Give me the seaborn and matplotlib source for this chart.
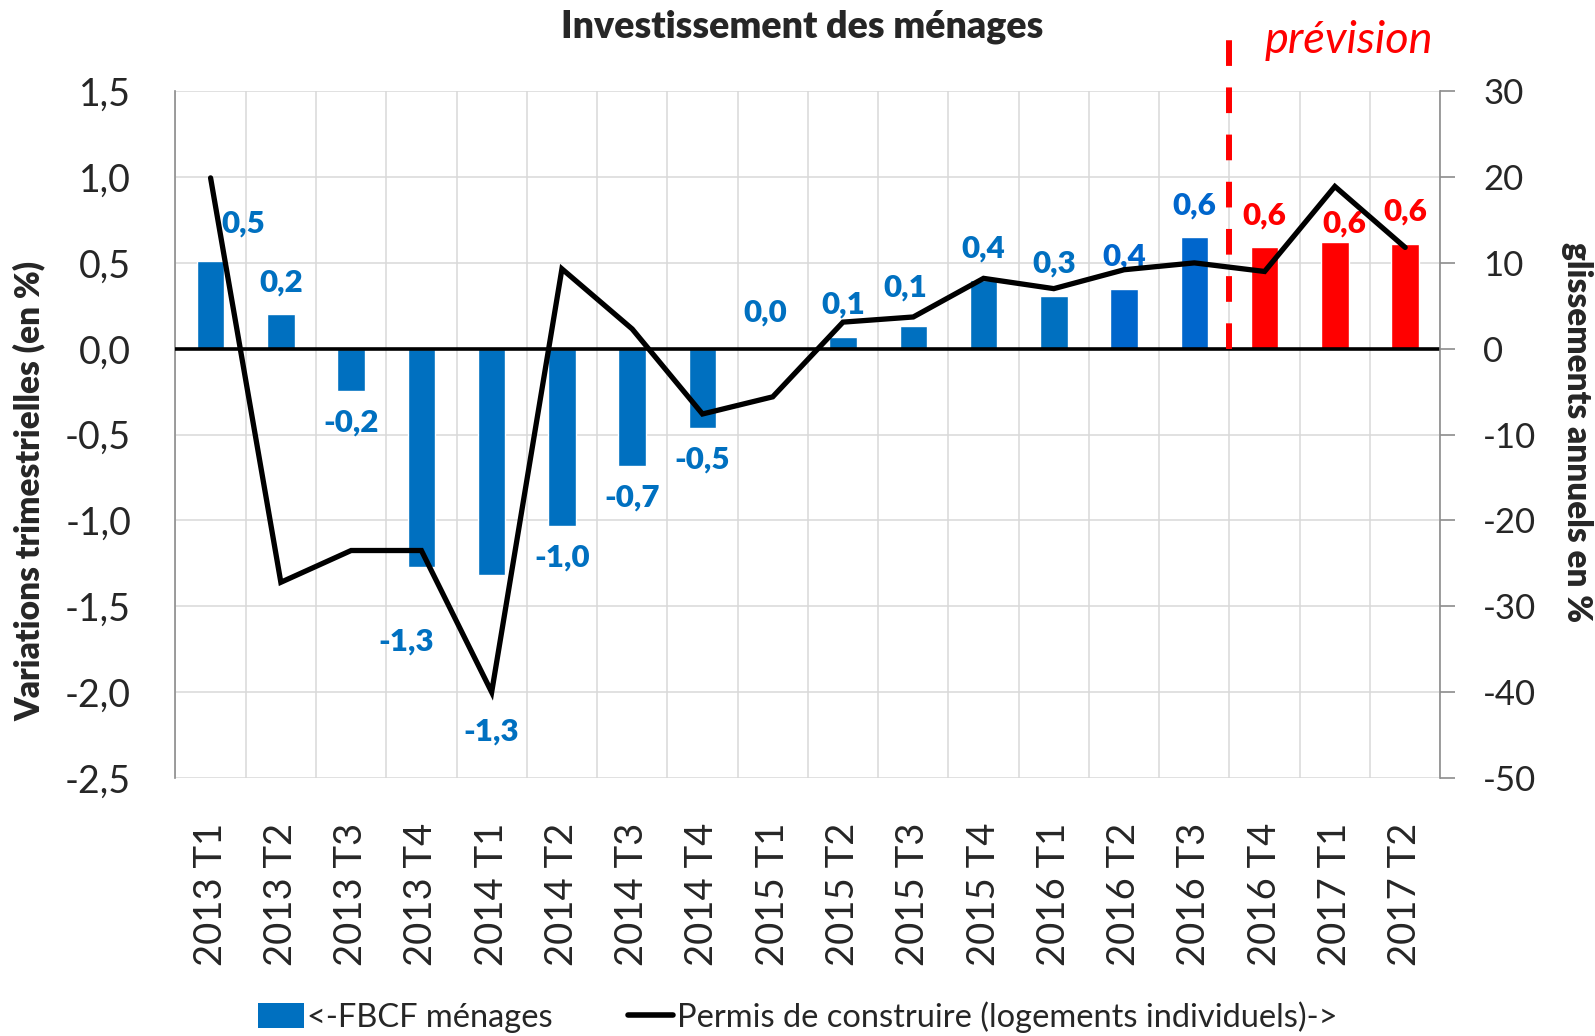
import numpy as np
import pandas as pd
import matplotlib
matplotlib.use("Agg")
import matplotlib.pyplot as plt
from matplotlib.patches import Patch
from matplotlib.lines import Line2D
import seaborn as sns

# Données
trimestres = ["2013 T1", "2013 T2", "2013 T3", "2013 T4",
              "2014 T1", "2014 T2", "2014 T3", "2014 T4",
              "2015 T1", "2015 T2", "2015 T3", "2015 T4",
              "2016 T1", "2016 T2", "2016 T3",
              "2016 T4", "2017 T1", "2017 T2"]
fbcf = [0.51, 0.20, -0.245, -1.27, -1.32, -1.03, -0.68, -0.46,
        0.005, 0.07, 0.13, 0.40, 0.31, 0.35, 0.65,
        0.59, 0.62, 0.61]
fbcf_labels = ["0,5", "0,2", "-0,2", "-1,3", "-1,3", "-1,0", "-0,7", "-0,5",
               "0,0", "0,1", "0,1", "0,4", "0,3", "0,4", "0,6",
               "0,6", "0,6", "0,6"]
permis = [19.9, -27.2, -23.5, -23.5, -40.0, 9.3, 2.3, -7.6,
          -5.6, 3.1, 3.7, 8.2, 7.0, 9.2, 10.0,
          9.0, 18.9, 11.8]
premier_prevu = "2016 T4"

BLEU = "#0070C0"
BLEU2 = "#0066CC"
ROUGE = "#FF0000"

sns.set_theme(style="white")
plt.rcParams["font.family"] = ["Lato", "DejaVu Sans"]
plt.rcParams["axes.unicode_minus"] = False

df = pd.DataFrame({"trimestre": trimestres, "fbcf": fbcf, "permis": permis})
i_prev = trimestres.index(premier_prevu)
couleurs = [BLEU] * (i_prev - 2) + [BLEU2] * 2 + [ROUGE] * (len(trimestres) - i_prev)

fig = plt.figure(figsize=(15.95, 10.36), dpi=100)
ax = fig.add_axes([0.110, 0.249, 0.793, 0.663])

sns.barplot(data=df, x="trimestre", y="fbcf", hue="trimestre", palette=couleurs,
            width=0.39, saturation=1, legend=False, ax=ax, zorder=2)
ax.set_ylim(-2.5, 1.5)
ax.set_yticks(np.arange(-2.5, 1.51, 0.5))
ax.set_yticklabels([f"{v:.1f}".replace(".", ",") for v in np.arange(-2.5, 1.51, 0.5)])
ax.set_xlim(-0.5, len(trimestres) - 0.5)
ax.set_xticks(np.arange(-0.5, len(trimestres), 1), minor=True)
ax.grid(True, axis="y", color="#D9D9D9", lw=1.1, zorder=0)
ax.grid(True, axis="x", which="minor", color="#D9D9D9", lw=1.1, zorder=0)
ax.set_axisbelow(True)
ax.axhline(0, color="black", lw=2.6, zorder=3)
ax.set_xlabel("")
ax.set_ylabel("")
ax.tick_params(axis="x", which="both", length=0, pad=32, labelsize=27.5, labelrotation=90)
ax.tick_params(axis="y", length=0, pad=32, labelsize=27)
for s in ["top", "bottom", "right"]:
    ax.spines[s].set_visible(False)
ax.spines["left"].set_color("#8C8C8C")
ax.spines["left"].set_linewidth(1.2)

# étiquettes des barres (décalages en pixels, quelques exceptions comme dans l'original)
decalages = {0: (33, 38), 3: (-15, -75), 4: (0, -156), 8: (-7, 35), 10: (-8, 39), 16: (9, 19)}
for i, (v, lab) in enumerate(zip(fbcf, fbcf_labels)):
    dx, dy = decalages.get(i, (0, 32 if v >= 0 else -32))
    ax.annotate(lab, (i, v), xytext=(dx, dy), textcoords="offset pixels",
                ha="center", va="center", fontsize=22.5, fontweight="heavy",
                color=couleurs[i] if i < i_prev else ROUGE, zorder=5)

# axe de droite : permis de construire
ax2 = ax.twinx()
sns.lineplot(x=np.arange(len(trimestres)), y=permis, ax=ax2, color="black",
             lw=3.8, solid_joinstyle="miter", zorder=4)
ax2.set_ylim(-50, 30)
ax2.set_yticks(np.arange(-50, 31, 10))
ax2.tick_params(axis="y", length=11, width=1.2, color="#8C8C8C", pad=20, labelsize=25)
for s in ["top", "bottom", "left"]:
    ax2.spines[s].set_visible(False)
ax2.spines["right"].set_color("#8C8C8C")
ax2.spines["right"].set_linewidth(1.2)
ax2.set_ylabel("")

# séparation prévision
ax.axvline(i_prev - 0.5, ymin=0.625, ymax=1.074, color=ROUGE, lw=4.3,
           dashes=(4.3, 3.6), clip_on=False, zorder=6)
ax.text(0.928, 1.056, "prévision", transform=ax.transAxes, ha="center", va="baseline",
        fontsize=32.5, style="italic", color=ROUGE)

fig.text(802 / 1595, 1 - 27 / 1036, "Investissement des ménages", ha="center", va="center",
         fontsize=27, fontweight="heavy")
fig.text(29 / 1595, 1 - 491 / 1036, "Variations trimestrielles (en %)", rotation=90,
         ha="center", va="center", fontsize=24, fontweight="heavy")
fig.text(1577 / 1595, 1 - 432 / 1036, "glissements annuels en %", rotation=270,
         ha="center", va="center", fontsize=24, fontweight="heavy")

handles = [Patch(facecolor=BLEU, edgecolor="none"),
           Line2D([0], [0], color="black", lw=4)]
fig.legend(handles, ["<-FBCF ménages", "Permis de construire (logements individuels)->"],
           loc="center", bbox_to_anchor=(0.5, 1 - 1017 / 1036), ncol=2, frameon=False,
           fontsize=23.5, handlelength=1.4, handleheight=0.8, handletextpad=0.1,
           columnspacing=2.3)

fig.savefig("out.png", dpi=100)
